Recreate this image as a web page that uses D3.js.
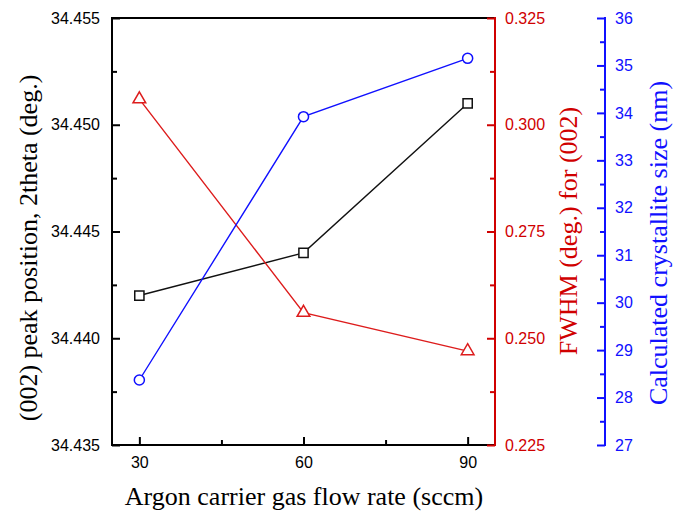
<!DOCTYPE html>
<html>
<head>
<meta charset="utf-8">
<script src="https://cdn.jsdelivr.net/npm/d3@7"></script>
<style>
  body { margin: 0; background: #fff; }
  svg { display: block; }
</style>
</head>
<body>
<script>
// data
const flowRates = [30, 60, 90];
const peakPos = [34.442, 34.444, 34.451];
const fwhm = [0.306, 0.256, 0.247];
const crystSize = [28.37, 33.92, 35.15];

const xTicks = [30, 60, 90];
const xMinor = [45, 75];
const leftTicks = [34.435, 34.44, 34.445, 34.45, 34.455];
const leftMinor = [34.4375, 34.4425, 34.4475, 34.4525];
const redTicks = [0.225, 0.25, 0.275, 0.3, 0.325];
const redMinor = [0.2375, 0.2625, 0.2875, 0.3125];
const blueTicks = [27, 28, 29, 30, 31, 32, 33, 34, 35, 36];
const blueMinor = [27.5, 28.5, 29.5, 30.5, 31.5, 32.5, 33.5, 34.5, 35.5];

const RED = "#d00000";
const BLUE = "#1010ff";
const sans = "'Liberation Sans', Arial, sans-serif";
const serif = "'Liberation Serif', 'Times New Roman', serif";

const W = 684, H = 515;
const pLeft = 112, pRight = 495, pTop = 18, pBottom = 445;
const blueX = 605;

const svg = d3.select("body").append("svg")
  .attr("width", W)
  .attr("height", H);

const x = d3.scaleLinear().domain([25, 95]).range([pLeft, pRight]);
const yL = d3.scaleLinear().domain([34.435, 34.455]).range([pBottom, pTop]);
const yR = d3.scaleLinear().domain([0.225, 0.325]).range([pBottom, pTop]);
const yB = d3.scaleLinear().domain([27, 36]).range([pBottom, pTop]);

// axes helper: major ticks with labels, minor ticks without
function addAxis(g, axisFn, scale, major, minor, fmt, color, pad) {
  g.append("g").call(axisFn(scale).tickValues(minor).tickSize(-5).tickSizeOuter(0).tickFormat(""));
  g.append("g").call(axisFn(scale).tickValues(major).tickSize(-8).tickSizeOuter(0).tickPadding(pad).tickFormat(fmt));
  g.selectAll(".domain").remove();
  g.selectAll("line").attr("stroke", color).attr("stroke-width", 2);
  g.selectAll("text")
    .attr("fill", color)
    .style("font-family", sans)
    .style("font-size", "16px");
}

const gx = svg.append("g").attr("transform", `translate(0,${pBottom})`);
addAxis(gx, d3.axisBottom, x, xTicks, xMinor, d3.format("d"), "#000", 12);

const gl = svg.append("g").attr("transform", `translate(${pLeft},0)`);
addAxis(gl, d3.axisLeft, yL, leftTicks, leftMinor, d3.format(".3f"), "#000", 12);

// frame: top, bottom, left in black
svg.append("path")
  .attr("d", `M${pRight},${pTop}H${pLeft}V${pBottom}H${pRight}`)
  .attr("fill", "none")
  .attr("stroke", "#000")
  .attr("stroke-width", 2);

const gr = svg.append("g").attr("transform", `translate(${pRight},0)`);
addAxis(gr, d3.axisRight, yR, redTicks, redMinor, d3.format(".3f"), RED, 10);
gr.append("line").attr("y1", pTop - 1).attr("y2", pBottom + 1)
  .attr("stroke", RED).attr("stroke-width", 2);

const gb = svg.append("g").attr("transform", `translate(${blueX},0)`);
addAxis(gb, d3.axisRight, yB, blueTicks, blueMinor, d3.format("d"), BLUE, 10);
gb.append("line").attr("y1", pTop - 1).attr("y2", pBottom + 1)
  .attr("stroke", BLUE).attr("stroke-width", 2);

// series
const series = [
  { vals: peakPos, y: yL, color: "#111", sym: d3.symbolSquare, size: 85 },
  { vals: fwhm, y: yR, color: "#dd1c1c", sym: d3.symbolTriangle, size: 70 },
  { vals: crystSize, y: yB, color: BLUE, sym: d3.symbolCircle, size: 80 }
];

series.forEach(s => {
  const pts = flowRates.map((f, i) => [x(f), s.y(s.vals[i])]);
  svg.append("path")
    .attr("d", d3.line()(pts))
    .attr("fill", "none")
    .attr("stroke", s.color)
    .attr("stroke-width", 1.4);
  svg.selectAll(null)
    .data(pts)
    .enter()
    .append("path")
    .attr("d", d3.symbol().type(s.sym).size(s.size))
    .attr("transform", d => `translate(${d[0]},${d[1]})`)
    .attr("fill", "#fff")
    .attr("stroke", s.color)
    .attr("stroke-width", 1.5);
});

// titles
svg.append("text")
  .attr("x", 304)
  .attr("y", 505)
  .attr("text-anchor", "middle")
  .style("font-family", serif)
  .style("font-size", "26px")
  .text("Argon carrier gas flow rate (sccm)");

svg.append("text")
  .attr("transform", "translate(28,248) rotate(-90)")
  .attr("text-anchor", "middle")
  .attr("dy", "0.35em")
  .style("font-family", serif)
  .style("font-size", "26px")
  .text("(002) peak position, 2theta (deg.)");

svg.append("text")
  .attr("transform", "translate(568,231) rotate(-90)")
  .attr("text-anchor", "middle")
  .attr("dy", "0.35em")
  .attr("fill", RED)
  .style("font-family", serif)
  .style("font-size", "26px")
  .text("FWHM (deg.) for (002)");

svg.append("text")
  .attr("transform", "translate(658,243) rotate(-90)")
  .attr("text-anchor", "middle")
  .attr("dy", "0.35em")
  .attr("fill", BLUE)
  .style("font-family", serif)
  .style("font-size", "26px")
  .text("Calculated crystallite size (nm)");
</script>
</body>
</html>
